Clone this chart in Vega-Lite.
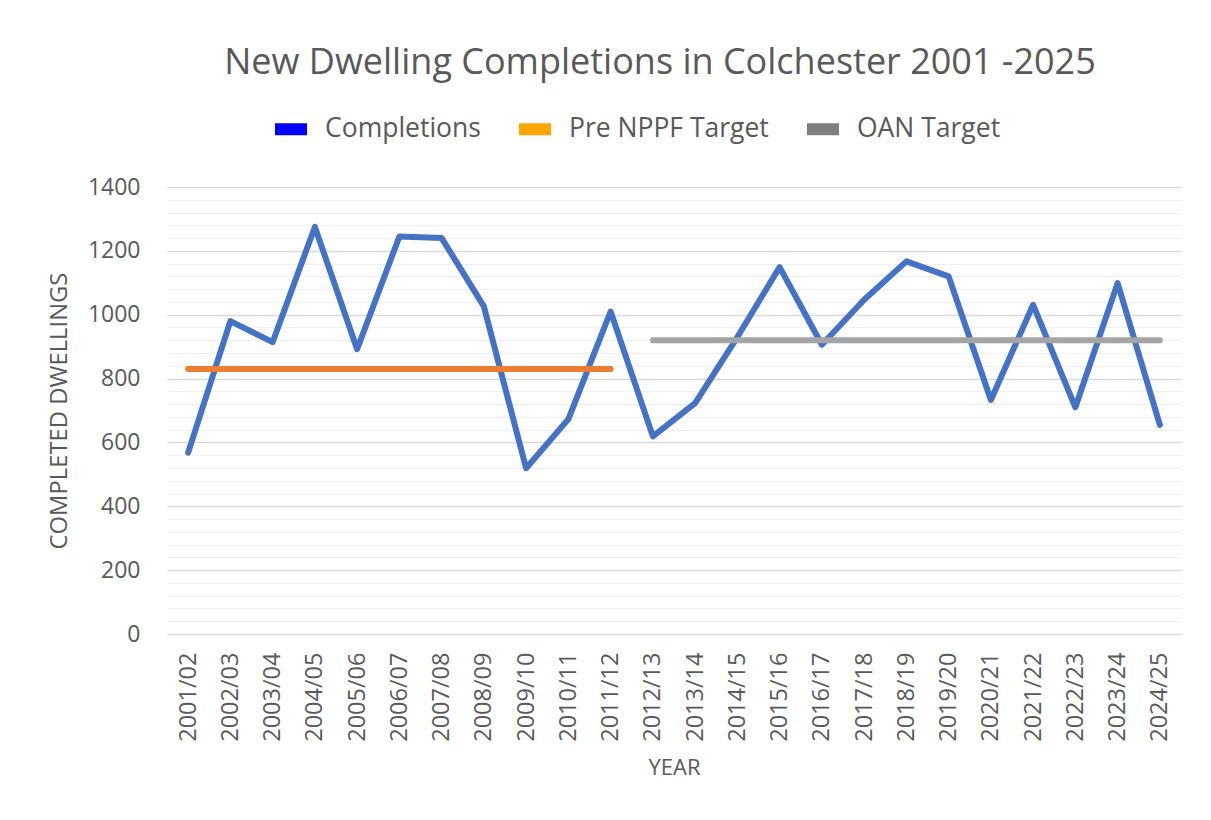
{
  "$schema": "https://vega.github.io/schema/vega-lite/v6.json",
  "width": 1014,
  "height": 447,
  "autosize": {"type": "none"},
  "padding": {"left": 167, "top": 187, "right": 30, "bottom": 186},
  "background": "white",
  "title": {
    "text": "New Dwelling Completions in Colchester 2001 -2025",
    "anchor": "middle",
    "dx": -14,
    "offset": 31,
    "fontSize": 36,
    "font": "Open Sans",
    "fontWeight": "normal",
    "color": "#595959"
  },
  "data": {
    "values": [
      {"year": "2001/02", "series": "Completions", "value": 568},
      {"year": "2002/03", "series": "Completions", "value": 980},
      {"year": "2003/04", "series": "Completions", "value": 914},
      {"year": "2004/05", "series": "Completions", "value": 1275},
      {"year": "2005/06", "series": "Completions", "value": 892},
      {"year": "2006/07", "series": "Completions", "value": 1245},
      {"year": "2007/08", "series": "Completions", "value": 1240},
      {"year": "2008/09", "series": "Completions", "value": 1026},
      {"year": "2009/10", "series": "Completions", "value": 519},
      {"year": "2010/11", "series": "Completions", "value": 673},
      {"year": "2011/12", "series": "Completions", "value": 1010},
      {"year": "2012/13", "series": "Completions", "value": 619},
      {"year": "2013/14", "series": "Completions", "value": 723},
      {"year": "2014/15", "series": "Completions", "value": 930},
      {"year": "2015/16", "series": "Completions", "value": 1149},
      {"year": "2016/17", "series": "Completions", "value": 906},
      {"year": "2017/18", "series": "Completions", "value": 1047},
      {"year": "2018/19", "series": "Completions", "value": 1167},
      {"year": "2019/20", "series": "Completions", "value": 1120},
      {"year": "2020/21", "series": "Completions", "value": 733},
      {"year": "2021/22", "series": "Completions", "value": 1031},
      {"year": "2022/23", "series": "Completions", "value": 710},
      {"year": "2023/24", "series": "Completions", "value": 1099},
      {"year": "2024/25", "series": "Completions", "value": 655},
      {"year": "2001/02", "series": "Pre NPPF Target", "value": 830},
      {"year": "2002/03", "series": "Pre NPPF Target", "value": 830},
      {"year": "2003/04", "series": "Pre NPPF Target", "value": 830},
      {"year": "2004/05", "series": "Pre NPPF Target", "value": 830},
      {"year": "2005/06", "series": "Pre NPPF Target", "value": 830},
      {"year": "2006/07", "series": "Pre NPPF Target", "value": 830},
      {"year": "2007/08", "series": "Pre NPPF Target", "value": 830},
      {"year": "2008/09", "series": "Pre NPPF Target", "value": 830},
      {"year": "2009/10", "series": "Pre NPPF Target", "value": 830},
      {"year": "2010/11", "series": "Pre NPPF Target", "value": 830},
      {"year": "2011/12", "series": "Pre NPPF Target", "value": 830},
      {"year": "2012/13", "series": "OAN Target", "value": 920},
      {"year": "2013/14", "series": "OAN Target", "value": 920},
      {"year": "2014/15", "series": "OAN Target", "value": 920},
      {"year": "2015/16", "series": "OAN Target", "value": 920},
      {"year": "2016/17", "series": "OAN Target", "value": 920},
      {"year": "2017/18", "series": "OAN Target", "value": 920},
      {"year": "2018/19", "series": "OAN Target", "value": 920},
      {"year": "2019/20", "series": "OAN Target", "value": 920},
      {"year": "2020/21", "series": "OAN Target", "value": 920},
      {"year": "2021/22", "series": "OAN Target", "value": 920},
      {"year": "2022/23", "series": "OAN Target", "value": 920},
      {"year": "2023/24", "series": "OAN Target", "value": 920},
      {"year": "2024/25", "series": "OAN Target", "value": 920}
    ]
  },
  "mark": {"type": "line", "strokeWidth": 6, "strokeCap": "round", "strokeJoin": "round"},
  "encoding": {
    "x": {
      "field": "year",
      "type": "ordinal",
      "sort": null,
      "scale": {"type": "point", "padding": 0.5},
      "axis": {
        "title": "YEAR",
        "labelAngle": -90,
        "labelAlign": "right",
        "labelBaseline": "middle",
        "labelPadding": 18,
        "labelFontSize": 23.5,
        "labelFont": "Open Sans",
        "labelColor": "#595959",
        "labelLimit": 300,
        "titleFont": "Open Sans",
        "titleFontSize": 22,
        "titleFontWeight": "normal",
        "titleColor": "#595959",
        "titlePadding": 16,
        "ticks": false,
        "domain": false,
        "grid": false
      }
    },
    "y": {
      "field": "value",
      "type": "quantitative",
      "scale": {"domain": [0, 1400], "nice": false, "zero": true},
      "axis": {
        "title": "COMPLETED DWELLINGS",
        "values": [0,40,80,120,160,200,240,280,320,360,400,440,480,520,560,600,640,680,720,760,800,840,880,920,960,1000,1040,1080,1120,1160,1200,1240,1280,1320,1360,1400],
        "labelExpr": "datum.value % 200 === 0 ? datum.label : ''",
        "format": "d",
        "labelFontSize": 23,
        "labelFont": "Open Sans",
        "labelColor": "#595959",
        "labelPadding": 27,
        "titleFont": "Open Sans",
        "titleFontSize": 23.8,
        "titleFontWeight": "normal",
        "titleColor": "#595959",
        "titlePadding": 16,
        "ticks": false,
        "domain": false,
        "grid": true,
        "gridColor": {"condition": {"test": "datum.value % 200 === 0", "value": "#d9d9d9"}, "value": "#efefef"},
        "gridWidth": {"condition": {"test": "datum.value % 200 === 0", "value": 1.5}, "value": 1.2}
      }
    },
    "color": {
      "field": "series",
      "type": "nominal",
      "scale": {"domain": ["Completions", "Pre NPPF Target", "OAN Target"], "range": ["#4472C4", "#ED7D31", "#A5A5A5"]},
      "legend": {
        "title": null,
        "orient": "none",
        "direction": "horizontal",
        "legendX": 108,
        "legendY": -74,
        "symbolType": "M-1,-0.375H1V0.375H-1Z",
        "symbolSize": 1024,
        "symbolStrokeWidth": 0,
        "labelFont": "Open Sans",
        "labelFontSize": 26.5,
        "labelColor": "#595959",
        "labelLimit": 400,
        "labelOffset": 18,
        "columnPadding": 38,
        "encode": {
          "symbols": {
            "update": {
              "fill": {"signal": "datum.value === 'Completions' ? '#0000FF' : datum.value === 'Pre NPPF Target' ? '#FFA500' : '#808080'"},
              "fillOpacity": {"value": 1},
              "strokeWidth": {"value": 0}
            }
          }
        }
      }
    }
  },
  "config": {"view": {"stroke": null}}
}
